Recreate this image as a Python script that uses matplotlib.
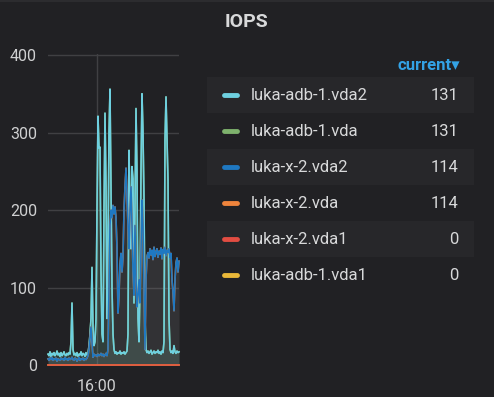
import numpy as np
import matplotlib
matplotlib.use('Agg')
import matplotlib.pyplot as plt
from matplotlib.patches import Rectangle
from matplotlib.ticker import FixedLocator, FuncFormatter

plt.rcParams['font.family'] = ['Roboto', 'DejaVu Sans']

# one sample per minute, starting 15:11
start_min = 15 * 60 + 11

adb1_vda2 = [14, 12, 17, 11, 15, 13, 16, 12, 14, 18,
             13, 15, 11, 16, 12, 14, 17, 13, 12, 15,
             13, 16, 14,
             30, 80, 20,
             13, 15, 12, 16, 11, 14, 13, 17, 12, 15, 14, 11, 16, 13,
             15, 25, 40, 60, 126, 50, 25, 30, 60, 200,
             321, 280, 281, 120, 40, 30, 200, 325, 232, 60,
             150, 300, 356, 230, 100, 40, 20, 15, 17, 14,
             16, 15, 18, 14, 16, 15, 17, 14, 16, 18,
             40, 277, 200, 150, 256, 240, 80, 200, 331, 250,
             60, 30, 100, 250, 350, 300, 213, 60, 20, 16,
             18, 15, 17, 19, 14, 16, 18, 15, 17, 16,
             19, 15, 17, 14, 18, 16, 30, 290, 346, 290,
             238, 60, 20, 16, 18, 15, 25, 17, 15, 18,
             16, 17]
adb1_vda = list(adb1_vda2)

x2_vda2 = [8, 6, 9, 7, 10, 6, 8, 7, 9, 5,
           8, 7, 6, 9, 7, 8, 6, 10, 7, 8,
           6, 9, 7,
           8, 10, 7,
           6, 9, 8, 5, 7, 10, 6, 8, 7, 9, 6, 8, 7, 9,
           12, 20, 35, 49, 30, 10, 14, 12, 13, 11,
           14, 12, 13, 15, 12, 14, 11, 13, 15, 12,
           20, 100, 180, 200, 190, 206, 195, 204, 190, 150,
           67, 90, 130, 144, 120, 140, 200, 230, 254, 220,
           178, 150, 200, 230, 180, 120, 90, 180, 110, 75,
           90, 110, 80, 150, 213, 180, 100, 20, 110, 140,
           145, 138, 150, 142, 148, 136, 152, 140, 146, 150,
           139, 147, 143, 151, 137, 149, 144, 152, 141, 148,
           145, 150, 138, 144, 110, 95, 70, 110, 132, 138,
           120, 134]
x2_vda = list(x2_vda2)
x2_vda1 = [0] * len(x2_vda2)
adb1_vda1 = [0] * len(x2_vda2)

legend_names = ['luka-adb-1.vda2', 'luka-adb-1.vda', 'luka-x-2.vda2',
                'luka-x-2.vda', 'luka-x-2.vda1', 'luka-adb-1.vda1']
legend_current = [131, 131, 114, 114, 0, 0]
colors = ['#6ed0e0', '#7eb26d', '#1f78c1', '#ef843c', '#e24d42', '#eab839']

bg = '#212124'
text_col = '#d8d9da'
W, H = 494, 397

fig = plt.figure(figsize=(W / 100, H / 100), dpi=100)
fig.patch.set_facecolor(bg)

# graph area: 0 -> y=365px, 400 -> y=55px
ppu = 310 / 400.0
y0, y1 = -1.5, 401
bottom_px = 365 + (0 - y0) * ppu
top_px = 55 - (y1 - 400) * ppu
ax = fig.add_axes([48 / W, 1 - bottom_px / H, 131 / W, (bottom_px - top_px) / H])
ax.set_facecolor(bg)

n = len(x2_vda2)
t = start_min + np.arange(n)

series = [adb1_vda, adb1_vda2, x2_vda, x2_vda2, adb1_vda1, x2_vda1]
series_colors = [colors[1], colors[0], colors[3], colors[2], colors[5], colors[4]]
for vals, c in zip(series, series_colors):
    ax.fill_between(t, 0, vals, color=c, alpha=0.1, lw=0)
for vals, c in zip(series, series_colors):
    ax.plot(t, vals, color=c, lw=1.15, clip_on=False)

ax.set_xlim(t[0], t[-1])
ax.set_ylim(y0, y1)
ax.yaxis.set_major_locator(FixedLocator([0, 100, 200, 300, 400]))
ax.xaxis.set_major_locator(FixedLocator([16 * 60]))
ax.xaxis.set_major_formatter(FuncFormatter(lambda v, p: '%d:%02d' % (v // 60, v % 60)))
ax.tick_params(length=0, colors='#cfd0d1', labelsize=11.5)
ax.tick_params(axis='y', pad=8)
ax.tick_params(axis='x', pad=9)
ax.grid(True, color='#404043', lw=1)
ax.set_axisbelow(True)
for s in ax.spines.values():
    s.set_visible(False)

# overlay in pixel coordinates for title and legend table
ov = fig.add_axes([0, 0, 1, 1])
ov.set_xlim(0, W)
ov.set_ylim(H, 0)
ov.axis('off')
ov.patch.set_alpha(0)

ov.add_patch(Rectangle((0, 0), W, 2, color='#2c2c2f', lw=0))
ov.text(246, 22, 'IOPS', ha='center', va='center', fontsize=14,
        fontweight='bold', color=text_col)

ov.text(460, 65, 'current\u25be', ha='right', va='center', fontsize=12,
        fontweight='bold', color='#33a2e5')

for k, (name, val, c) in enumerate(zip(legend_names, legend_current, colors)):
    cy = 95 + 36 * k
    if k % 2 == 0:
        ov.add_patch(Rectangle((207, cy - 18), 267, 36, color='#27272a', lw=0))
    ov.plot([224, 237], [cy, cy], color=c, lw=3.5, solid_capstyle='round')
    ov.text(251, cy, name, ha='left', va='center', fontsize=12, color=text_col)
    ov.text(458, cy, str(val), ha='right', va='center', fontsize=12, color=text_col)

fig.savefig('out.png', dpi=100, facecolor=bg)
